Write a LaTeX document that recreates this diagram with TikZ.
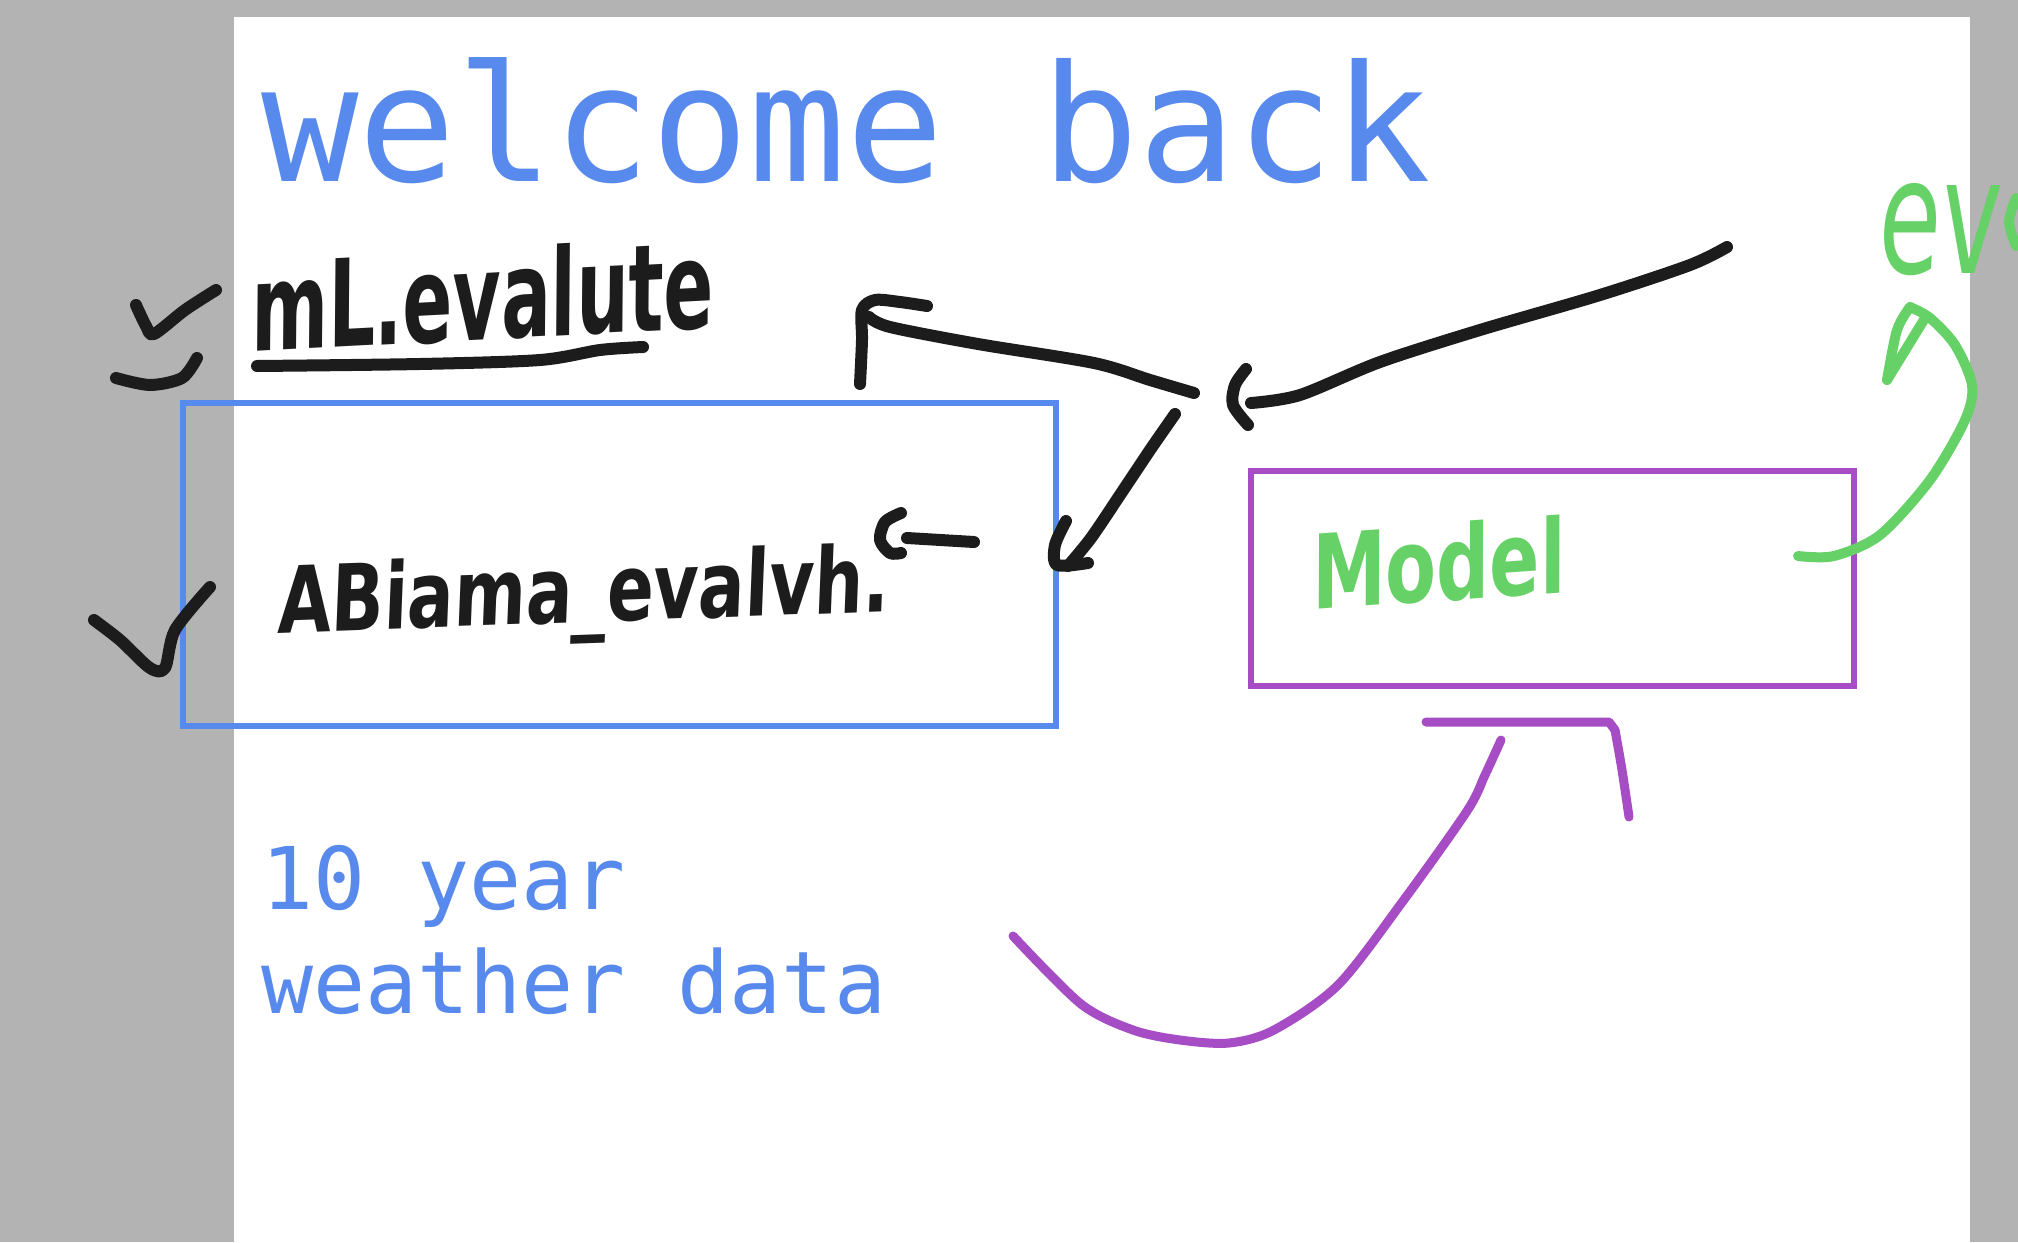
\documentclass[tikz,border=0pt]{standalone}
\usepackage{fontspec}
\usepackage{graphicx}
\newfontfamily\monofnt{DejaVu Sans Mono}
\newfontfamily\handfnt{DejaVu Sans}[FakeSlant=0.1]
\definecolor{bluec}{RGB}{88,137,236}
\definecolor{purplec}{RGB}{166,76,196}
\definecolor{greenc}{RGB}{102,209,102}
\definecolor{inkc}{RGB}{28,28,28}
\definecolor{grayc}{RGB}{179,179,179}
\begin{document}
\begin{tikzpicture}[x=1pt,y=-1pt,
  ink/.style={draw=inkc,line width=12pt,line cap=round,line join=round},
  gink/.style={draw=greenc,line width=10pt,line cap=round,line join=round},
  pink/.style={draw=purplec,line width=9pt,line cap=round,line join=round},
  typed/.style={anchor=base west,inner sep=0pt,text=bluec},
  hand/.style={anchor=base west,inner sep=0pt},
  box/.style={anchor=north west,inner sep=0pt,fill=none}]
\useasboundingbox (0,0) rectangle (2018,1242);
\fill[grayc] (0,0) rectangle (2018,1242);
\fill[white] (234,17) rectangle (1970,1242);

% typed text
\node[typed,font=\monofnt\fontsize{162}{162}\selectfont] (title) at (261,181) {welcome back};
\node[typed,font=\monofnt\fontsize{86.5}{86.5}\selectfont] (ten) at (261,909) {10 year};
\node[typed,font=\monofnt\fontsize{86.5}{86.5}\selectfont] (wd) at (261,1013) {weather data};

% boxes
\node[box,draw=bluec,line width=6pt,minimum width=873pt,minimum height=323pt] (abox) at (180,400) {};
\node[box,draw=purplec,line width=6pt,minimum width=603pt,minimum height=215pt] (mbox) at (1248,468) {};

% handwriting
\node[hand,text=inkc,rotate=3] (mlt) at (251,352) {\resizebox{463pt}{92pt}{\handfnt\bfseries mL.evalute}};
\node[hand,text=inkc,rotate=2] (abt) at (277,633) {\resizebox{611pt}{70pt}{\handfnt\bfseries ABiama\_evalvh.}};
\node[hand,text=greenc,rotate=4] (model) at (1312,610) {\resizebox{254pt}{78pt}{\handfnt\bfseries Model}};
\node[hand,text=greenc] (ev) at (1876,273) {\resizebox{122pt}{90pt}{\handfnt ev}};
\draw[gink] plot[smooth] coordinates {(2016,198) (2009,222) (2016,246)};

% check marks
\draw[ink] plot[smooth] coordinates {(136,305) (146,326) (154,334) (185,310) (216,290)};
\draw[ink] plot[smooth] coordinates {(116,378) (150,385) (182,378) (197,358)};
\draw[ink] plot[smooth] coordinates {(94,620) (120,640) (150,668) (165,668) (175,630) (210,587)};

% underline
\draw[ink] plot[smooth] coordinates {(257,366) (420,364) (540,360) (600,350) (643,347)};

% arrow from upper right
\draw[ink] plot[smooth] coordinates {(1727,247) (1690,265) (1600,295) (1480,330) (1380,362) (1300,395) (1251,403)};
\draw[ink] plot[smooth] coordinates {(1246,369) (1235,385) (1233,405) (1248,425)};

% arrow to ML.evalute
\draw[ink] plot[smooth] coordinates {(1194,393) (1150,380) (1094,363) (978,344) (890,327) (869,317)};
\draw[ink] plot[smooth] coordinates {(860,384) (862,340) (862,310) (875,300) (900,302) (927,306)};

% arrow to box
\draw[ink] plot[smooth] coordinates {(1175,414) (1150,450) (1120,495) (1091,538) (1068,566)};
\draw[ink] plot[smooth] coordinates {(1066,521) (1055,545) (1057,565) (1088,563)};

% small c-dash
\draw[ink] plot[smooth] coordinates {(901,513) (885,522) (880,540) (890,553) (901,553)};
\draw[ink] (907,538) -- (974,542);

% green curve
\draw[gink] plot[smooth] coordinates {(1798,556) (1834,556) (1880,535) (1930,480) (1965,420) (1972,385) (1955,345) (1930,318) (1910,307)};
\draw[gink] plot[smooth] coordinates {(1910,307) (1897,330) (1887,380)};
\draw[gink] (1887,380) -- (1925,318);

% purple strokes
\draw[pink] (1426,722) -- (1609,722) -- (1615,730);
\draw[pink] plot[smooth] coordinates {(1615,730) (1622,770) (1629,817)};
\draw[pink] plot[smooth] coordinates {(1501,740) (1485,775) (1467,811) (1403,901) (1338,985) (1274,1030) (1229,1043) (1180,1040) (1133,1030) (1081,1004) (1013,936)};
\end{tikzpicture}
\end{document}
